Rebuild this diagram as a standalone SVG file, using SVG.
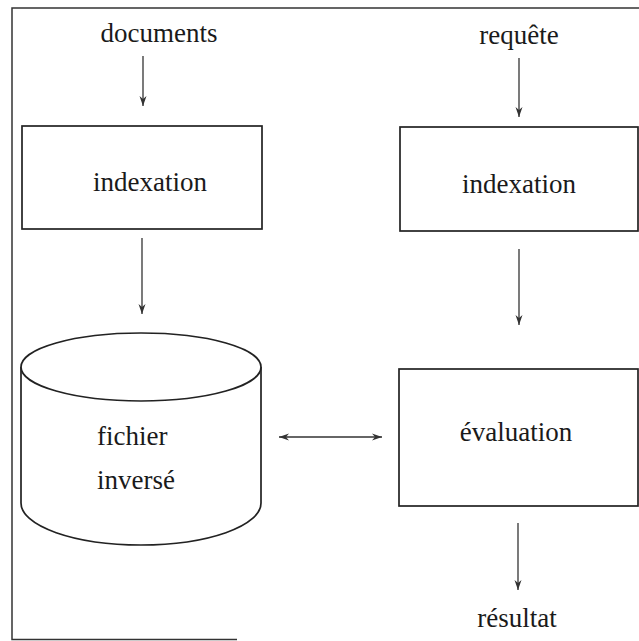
<svg xmlns="http://www.w3.org/2000/svg" width="639" height="641" viewBox="0 0 639 641">
  <defs>
    <marker id="arrow" viewBox="0 0 10 10" refX="10" refY="5" markerWidth="10" markerHeight="10" markerUnits="userSpaceOnUse" orient="auto-start-reverse">
      <path d="M0,1.5 L10,5 L0,8.5 L3,5 Z" fill="#333"/>
    </marker>
  </defs>
  <style>
    .frame { fill: none; stroke: #333; stroke-width: 1.5; }
    .box { fill: #fff; stroke: #222; stroke-width: 1.7; }
    .edge { fill: none; stroke: #333; stroke-width: 1.3; }
    .lbl { font-family: "Liberation Serif", "Times New Roman", serif; font-size: 27px; fill: #1a1a1a; }
    .mid { text-anchor: middle; }
  </style>
  <rect width="639" height="641" fill="#fff"/>

  <!-- outer frame: open on the right, bottom edge only partly printed -->
  <path class="frame" d="M639,8 L12,8 L12,639.5 L237,639.5"/>

  <text class="lbl mid" x="159" y="42">documents</text>
  <text class="lbl mid" x="519" y="44">requête</text>
  <text class="lbl mid" x="517" y="627">résultat</text>

  <g id="indexation-docs">
    <rect class="box" x="22" y="126" width="240" height="103"/>
    <text class="lbl mid" x="150" y="191">indexation</text>
  </g>

  <g id="indexation-requete">
    <rect class="box" x="400" y="127" width="238" height="104"/>
    <text class="lbl mid" x="519" y="193">indexation</text>
  </g>

  <g id="fichier-inverse">
    <path class="box" d="M21,367 L21,503 A120,42 0 0 0 261,503 L261,367"/>
    <ellipse class="box" cx="141" cy="367" rx="120" ry="34"/>
    <text class="lbl" x="97" y="445">fichier</text>
    <text class="lbl" x="97" y="489">inversé</text>
  </g>

  <g id="evaluation">
    <rect class="box" x="399" y="369" width="239" height="137"/>
    <text class="lbl mid" x="516" y="441">évaluation</text>
  </g>

  <g id="connectors">
    <line class="edge" x1="143" y1="56" x2="143" y2="106" marker-end="url(#arrow)"/>
    <line class="edge" x1="519" y1="58" x2="519" y2="117" marker-end="url(#arrow)"/>
    <line class="edge" x1="142" y1="238" x2="142" y2="314" marker-end="url(#arrow)"/>
    <line class="edge" x1="519" y1="249" x2="519" y2="325" marker-end="url(#arrow)"/>
    <line class="edge" x1="279" y1="437" x2="382" y2="437" marker-start="url(#arrow)" marker-end="url(#arrow)"/>
    <line class="edge" x1="518" y1="523" x2="518" y2="590" marker-end="url(#arrow)"/>
  </g>
</svg>
